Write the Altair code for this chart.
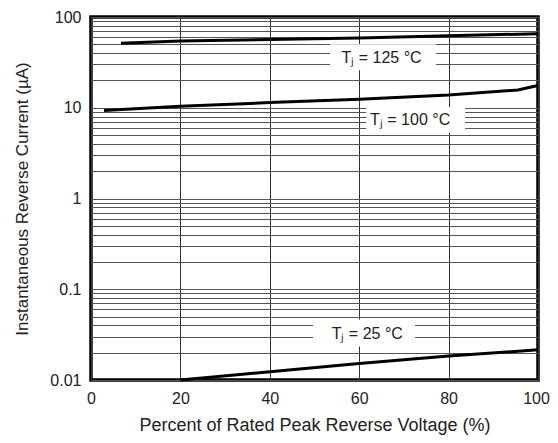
import altair as alt
import pandas as pd

# --- data ---
x125 = [6.7, 20, 40, 60, 80, 100]
y125 = [51.5, 54.5, 56.5, 58.8, 62.0, 65.5]

x100 = [2.9, 20, 40, 60, 80, 95.5, 100]
y100 = [9.3, 10.4, 11.4, 12.4, 13.8, 15.7, 17.6]

x25 = [20, 40, 60, 80, 100]
y25 = [0.0100, 0.0123, 0.0152, 0.0184, 0.0215]

# annotation labels (data coordinates)
lab_text = ["Tⱼ = 125 °C", "Tⱼ = 100 °C", "Tⱼ = 25 °C"]
lab_x = [65.0, 71.4, 61.8]
lab_y = [35.2, 7.4, 0.0318]
box_x1 = [53.5, 61.6, 49.7]
box_x2 = [77.2, 83.7, 72.5]
box_y1 = [50.0, 10.2, 0.0464]
box_y2 = [25.9, 5.3, 0.0234]

x_ticks = [0, 20, 40, 60, 80, 100]
decades = [0.01, 0.1, 1, 10]
y_grid = [round(k * d, 6) for d in decades for k in range(1, 10)] + [100]

rows = []
for s, xs, ys in [("125", x125, y125), ("100", x100, y100), ("25", x25, y25)]:
    for xv, yv in zip(xs, ys):
        rows.append({"series": s, "x": xv, "y": yv})
df = pd.DataFrame(rows)

labels = pd.DataFrame({"text": lab_text, "x": lab_x, "y": lab_y,
                       "x1": box_x1, "x2": box_x2, "y1": box_y1, "y2": box_y2})

FONT = "Liberation Sans"

xscale = alt.Scale(domain=[0, 100], nice=False, zero=False)
yscale = alt.Scale(type="log", domain=[0.01, 100], nice=False)

xaxis = alt.Axis(values=x_ticks, grid=True, gridColor="#333", gridWidth=1,
                 domain=False, ticks=False, labelPadding=10, labelFontSize=16,
                 labelFont=FONT, labelColor="#222", labelFlush=False,
                 labelOffset={"condition": {"test": "datum.value == 100", "value": -2}, "value": 0},
                 title="Percent of Rated Peak Reverse Voltage (%)",
                 titleFont=FONT, titleFontSize=18, titleFontWeight="normal",
                 titleColor="#222", titleX=223.5, titleY=45,
                 titleBaseline="middle", titleAlign="center")
yaxis = alt.Axis(values=y_grid, grid=True, gridColor="#555", gridWidth=1,
                 domain=False, ticks=False, labelPadding=10, labelFontSize=16,
                 labelFont=FONT, labelColor="#222", labelFlush=False,
                 labelExpr="indexof([0.01,0.1,1,10,100], datum.value) >= 0 ? format(datum.value, '~g') : ''",
                 title="Instantaneous Reverse Current (µA)",
                 titleFont=FONT, titleFontSize=17, titleFontWeight="normal",
                 titleColor="#222", titleX=-69, titleY=181.5, titleAngle=-90,
                 titleBaseline="middle", titleAlign="center")

lines = alt.Chart(df).mark_line(color="black", strokeWidth=3).encode(
    x=alt.X("x:Q", scale=xscale, axis=xaxis),
    y=alt.Y("y:Q", scale=yscale, axis=yaxis),
    detail="series:N",
)

boxes = alt.Chart(labels).mark_rect(color="white").encode(
    x=alt.X("x1:Q", scale=xscale), x2="x2:Q",
    y=alt.Y("y1:Q", scale=yscale), y2="y2:Q",
)

texts = alt.Chart(labels).mark_text(font=FONT, fontSize=16, color="#222",
                                    align="center", baseline="middle").encode(
    x=alt.X("x:Q", scale=xscale), y=alt.Y("y:Q", scale=yscale), text="text:N")

chart = alt.layer(lines, boxes, texts).properties(
    width=447, height=363,
    autosize=alt.AutoSizeParams(type="none"),
    padding={"left": 83, "top": 9, "right": 12, "bottom": 58},
).configure(background="white").configure_view(stroke="black", strokeWidth=3.5)

chart.save("out.html", embed_options={"renderer": "svg", "actions": False})
